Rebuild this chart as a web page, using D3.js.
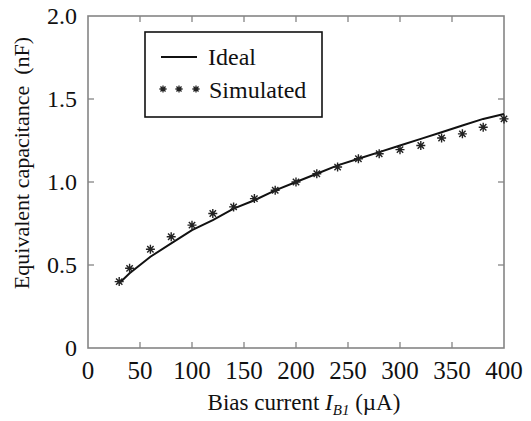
<!DOCTYPE html>
<html><head>
<meta charset="utf-8">
<script src="https://cdn.jsdelivr.net/npm/d3@7/dist/d3.min.js"></script>
<style>
svg text, svg tspan { font-family: 'Liberation Serif', 'Times New Roman', Tinos, serif !important; }
</style>
</head>
<body style="margin:0;background:#fff">
<script type="text/javascript">

// data
var biasCurrent = [30, 40, 60, 80, 100, 120, 140, 160, 180, 200, 220, 240, 260, 280, 300, 320, 340, 360, 380, 400];
var idealCap = [0.39, 0.45, 0.55, 0.63, 0.71, 0.77, 0.84, 0.89, 0.95, 1.00, 1.05, 1.10, 1.14, 1.18, 1.22, 1.26, 1.30, 1.34, 1.38, 1.41];
var simulatedCap = [0.40, 0.48, 0.595, 0.67, 0.74, 0.81, 0.85, 0.90, 0.95, 1.00, 1.05, 1.09, 1.14, 1.17, 1.195, 1.22, 1.265, 1.29, 1.33, 1.38];
var xTicks = [0, 50, 100, 150, 200, 250, 300, 350, 400];
var yTicks = [0, 0.5, 1.0, 1.5, 2.0];
var yTickLabels = ["0", "0.5", "1.0", "1.5", "2.0"];

var width = 531;
var height = 421;
// plot frame ("top" is taken by window.top, so prefixed names)
var plotLeft = 88, plotRight = 504, plotTop = 16, plotBottom = 348;
var serif = "'Liberation Serif', 'Times New Roman', Tinos, serif";

var svg = d3.select("body").append("svg")
            .attr("width", width)
            .attr("height", height)
            .attr("font-family", serif);

var x = d3.scaleLinear().domain([0, 400]).range([plotLeft, plotRight]);
var y = d3.scaleLinear().domain([0, 2]).range([plotBottom, plotTop]);

var frameColor = "#858585";

// inner ticks on all four sides
var innerX = xTicks.slice(1, -1);
svg.selectAll("line.xb").data(innerX).enter().append("line")
    .attr("x1", function(d){ return x(d); }).attr("x2", function(d){ return x(d); })
    .attr("y1", plotBottom).attr("y2", plotBottom - 6)
    .attr("stroke", frameColor).attr("stroke-width", 1.3);
svg.selectAll("line.xt").data(innerX).enter().append("line")
    .attr("x1", function(d){ return x(d); }).attr("x2", function(d){ return x(d); })
    .attr("y1", plotTop).attr("y2", plotTop + 6)
    .attr("stroke", frameColor).attr("stroke-width", 1.3);
var innerY = yTicks.slice(1, -1);
svg.selectAll("line.yl").data(innerY).enter().append("line")
    .attr("x1", plotLeft).attr("x2", plotLeft + 6)
    .attr("y1", function(d){ return y(d); }).attr("y2", function(d){ return y(d); })
    .attr("stroke", frameColor).attr("stroke-width", 1.3);
svg.selectAll("line.yr").data(innerY).enter().append("line")
    .attr("x1", plotRight).attr("x2", plotRight - 6)
    .attr("y1", function(d){ return y(d); }).attr("y2", function(d){ return y(d); })
    .attr("stroke", frameColor).attr("stroke-width", 1.3);

svg.append("rect")
    .attr("x", plotLeft).attr("y", plotTop)
    .attr("width", plotRight - plotLeft).attr("height", plotBottom - plotTop)
    .attr("fill", "none").attr("stroke", frameColor).attr("stroke-width", 1.6);

// tick labels
svg.selectAll("text.xl").data(xTicks).enter().append("text")
    .attr("x", function(d){ return x(d); })
    .attr("y", 379)
    .attr("text-anchor", "middle")
    .attr("fill", "#111")
    .style("font-family", serif, "important")
    .style("font-size", "25px")
    .text(function(d){ return d; });

svg.selectAll("text.yl").data(yTicks).enter().append("text")
    .attr("x", 77)
    .attr("y", function(d){ return y(d) + 8; })
    .attr("text-anchor", "end")
    .attr("fill", "#111")
    .style("font-family", serif, "important")
    .style("font-size", "24px")
    .text(function(d, i){ return yTickLabels[i]; });

// axis titles
svg.append("text")
    .attr("transform", "translate(29,163) rotate(-90)")
    .attr("text-anchor", "middle")
    .attr("fill", "#111")
    .style("font-family", serif, "important")
    .style("font-size", "22px")
    .style("white-space", "pre")
    .text("Equivalent capacitance  (nF)");

var xt = svg.append("text")
    .attr("x", 304).attr("y", 410)
    .attr("text-anchor", "middle")
    .attr("fill", "#111")
    .style("font-family", serif, "important")
    .style("font-size", "23px")
    .style("white-space", "pre");
xt.append("tspan").text("Bias current ");
xt.append("tspan").style("font-style", "italic").text("I");
xt.append("tspan").style("font-style", "italic").style("font-size", "15px").attr("dy", 5).text("B1");
xt.append("tspan").attr("dy", -5).text(" (\u00b5A)");

// ideal curve
var line = d3.line()
    .x(function(d, i){ return x(biasCurrent[i]); })
    .y(function(d){ return y(d); });

svg.append("path")
    .datum(idealCap)
    .attr("d", line)
    .attr("fill", "none")
    .attr("stroke", "#111")
    .attr("stroke-width", 2);

// asterisk markers
function star(r) {
    var a = r * 0.7071;
    return "M0," + (-r) + "L0," + r +
           "M" + (-r) + ",0L" + r + ",0" +
           "M" + (-a) + "," + (-a) + "L" + a + "," + a +
           "M" + (-a) + "," + a + "L" + a + "," + (-a);
}

svg.selectAll("path.sim").data(simulatedCap).enter().append("path")
    .attr("transform", function(d, i){ return "translate(" + x(biasCurrent[i]) + "," + y(d) + ")"; })
    .attr("d", star(4.5))
    .attr("stroke", "#222")
    .attr("stroke-width", 1.4)
    .attr("fill", "none");

// legend
var lg = svg.append("g");
lg.append("rect")
    .attr("x", 145).attr("y", 32)
    .attr("width", 177).attr("height", 85)
    .attr("fill", "#fff").attr("stroke", "#111").attr("stroke-width", 1.6);
lg.append("line")
    .attr("x1", 161).attr("x2", 197)
    .attr("y1", 57).attr("y2", 57)
    .attr("stroke", "#111").attr("stroke-width", 2);
lg.append("text").attr("x", 208).attr("y", 65)
    .attr("fill", "#111")
    .style("font-family", serif, "important").style("font-size", "24px")
    .text("Ideal");
[163, 179, 196].forEach(function(cx){
    lg.append("path")
        .attr("transform", "translate(" + cx + ",89)")
        .attr("d", star(3.6))
        .attr("stroke", "#222").attr("stroke-width", 1.3).attr("fill", "none");
});
lg.append("text").attr("x", 209).attr("y", 98)
    .attr("fill", "#111")
    .style("font-family", serif, "important").style("font-size", "24px")
    .text("Simulated");

</script>
</body></html>
